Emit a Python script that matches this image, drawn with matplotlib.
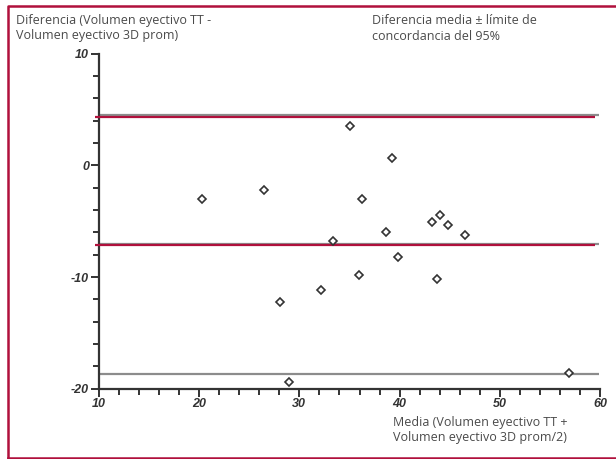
import matplotlib
matplotlib.use("Agg")
import matplotlib.pyplot as plt
from matplotlib.ticker import MultipleLocator

plt.rcParams['axes.unicode_minus'] = False

# Bland-Altman points: media (x) vs diferencia (y)
media = [20.3, 26.5, 35.0, 39.2, 36.2, 33.4, 38.6, 39.8, 35.9, 32.2,
         28.1, 29.0, 56.9, 43.2, 44.0, 44.8, 46.5, 43.7]
diferencia = [-3.0, -2.2, 3.55, 0.7, -3.0, -6.8, -5.95, -8.2, -9.85, -11.15,
              -12.25, -19.4, -18.6, -5.05, -4.4, -5.3, -6.25, -10.2]

# reference lines
gray_lines = [4.5, -7.0, -18.7]
red_lines = [4.3, -7.1]

xticks = [10, 20, 30, 40, 50, 60]
yticks = [-20, -10, 0, 10]

red = '#b0103c'
text_col = '#4a4a4a'
axis_col = '#333333'

fig = plt.figure(figsize=(6.16, 4.59), dpi=100)
ax = fig.add_axes([99/616, 1 - 388.7/459, 501/616, 335/459])

for v in gray_lines:
    ax.plot([10, 59.9], [v, v], color='#8c8c8c', lw=1.6, zorder=2, solid_capstyle='butt')
for v in red_lines:
    ax.plot([9.6, 59.5], [v, v], color=red, lw=1.6, zorder=3, solid_capstyle='butt', clip_on=False)

ax.plot(media, diferencia, linestyle='none', marker='D', markersize=4.3,
        markerfacecolor='white', markeredgecolor=axis_col, markeredgewidth=1.2, zorder=4)

ax.set_xlim(10, 60)
ax.set_ylim(-20, 10)
ax.set_xticks(xticks)
ax.set_yticks(yticks)
ax.xaxis.set_minor_locator(MultipleLocator(2))
ax.yaxis.set_minor_locator(MultipleLocator(2))
for s in ['top', 'right']:
    ax.spines[s].set_visible(False)
for s in ['left', 'bottom']:
    ax.spines[s].set_color(axis_col)
    ax.spines[s].set_linewidth(1.6)
ax.tick_params(which='major', length=6, width=1.4, color=axis_col, pad=1)
ax.tick_params(which='minor', length=4.5, width=1.4, color=axis_col)
for lab in ax.get_xticklabels() + ax.get_yticklabels():
    lab.set_family('Liberation Sans')
    lab.set_fontweight('bold')
    lab.set_style('italic')
    lab.set_fontsize(9)
    lab.set_color(axis_col)

tfont = dict(family='Open Sans', fontsize=9, color=text_col, va='top', linespacing=1.25)
fig.text(16/616, 1 - 14/459, 'Diferencia (Volumen eyectivo TT -\nVolumen eyectivo 3D prom)', **tfont)
fig.text(372/616, 1 - 14/459, 'Diferencia media ± límite de\nconcordancia del 95%', **tfont)
fig.text(393/616, 1 - 416/459, 'Media (Volumen eyectivo TT +\nVolumen eyectivo 3D prom/2)', **tfont)

# red frame (left, top, bottom)
fig.add_artist(plt.Line2D([8/616, 8/616, 616/616], [1 - 457.5/459, 1 - 6/459, 1 - 6/459],
                          color=red, lw=1.8, transform=fig.transFigure))
fig.add_artist(plt.Line2D([8/616, 616/616], [1 - 457.5/459, 1 - 457.5/459],
                          color=red, lw=1.8, transform=fig.transFigure))

fig.savefig('out.png', dpi=100)
